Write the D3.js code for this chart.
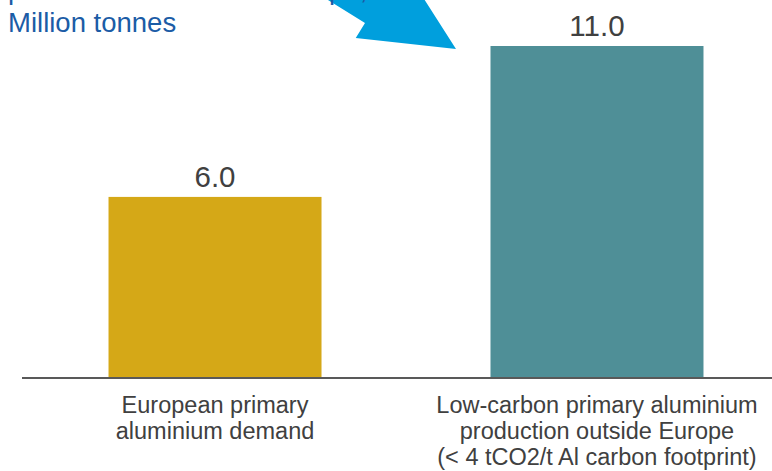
<!DOCTYPE html>
<html>
<head>
<meta charset="utf-8">
<script src="https://cdn.jsdelivr.net/npm/d3@7/dist/d3.min.js"></script>
<style>
  html, body { margin: 0; padding: 0; background: #ffffff; }
  svg { display: block; }
</style>
</head>
<body>
<svg id="chart" width="772" height="471"></svg>
<script>
// ---- Data ----
const categories = [
  ["European primary", "aluminium demand"],
  ["Low-carbon primary aluminium", "production outside Europe", "(< 4 tCO2/t Al carbon footprint)"]
];
const values = [6.0, 11.0];
const barColors = ["#D5A817", "#4F8F97"];
const titleLines = ["production outside of Europe, 2019", "Million tonnes"];

// ---- Layout ----
const W = 772, H = 471;
const svg = d3.select("#chart");
const baseY = 378, topY = 46;

const x = d3.scaleBand()
  .domain(d3.range(values.length))
  .range([22, 790])
  .paddingInner(0.4424)
  .paddingOuter(0.2265);

const y = d3.scaleLinear()
  .domain([0, d3.max(values)])
  .range([baseY, topY]);

// ---- Arrow (annotation) ----
const tip = [456, 49];
const ang = Math.atan2(0.528, 0.849);
const a = [Math.cos(ang), Math.sin(ang)];
const n = [-a[1], a[0]];
const headLen = 91, headHalf = 43.5, shaftHalf = 26, totalLen = 260;
function pt(along, perp) {
  return [tip[0] - along * a[0] + perp * n[0], tip[1] - along * a[1] + perp * n[1]];
}
const arrowPts = [
  pt(0, 0),
  pt(headLen, headHalf),
  pt(headLen, shaftHalf),
  pt(totalLen, shaftHalf),
  pt(totalLen, -shaftHalf),
  pt(headLen, -shaftHalf),
  pt(headLen, -headHalf)
];
svg.append("path")
  .attr("d", d3.line()(arrowPts) + "Z")
  .attr("fill", "#009FDD");

// ---- Title ----
svg.append("g").selectAll("text")
  .data(titleLines)
  .join("text")
  .attr("x", 8)
  .attr("y", (d, i) => -1 + i * 33)
  .attr("font-family", "Liberation Sans, Arial, sans-serif")
  .attr("font-size", 27.5)
  .attr("fill", "#1B5CA6")
  .text(d => d);

// ---- Bars ----
svg.append("g").selectAll("rect")
  .data(values)
  .join("rect")
  .attr("x", (d, i) => x(i))
  .attr("y", d => y(d))
  .attr("width", x.bandwidth())
  .attr("height", d => baseY - y(d))
  .attr("fill", (d, i) => barColors[i]);

// ---- Value labels ----
svg.append("g").selectAll("text")
  .data(values)
  .join("text")
  .attr("x", (d, i) => x(i) + x.bandwidth() / 2)
  .attr("y", d => y(d) - 10)
  .attr("text-anchor", "middle")
  .attr("font-family", "Liberation Sans, Arial, sans-serif")
  .attr("font-size", 29.5)
  .attr("fill", "#404040")
  .text(d => d.toFixed(1));

// ---- Axis ----
const axis = d3.axisBottom(x).tickSize(0).tickFormat("");
const axisG = svg.append("g")
  .attr("transform", `translate(0,${baseY})`)
  .call(axis);
axisG.select(".domain")
  .attr("d", `M22,0H772`)
  .attr("stroke", "#595959")
  .attr("stroke-width", 2);

// ---- Category labels ----
const catG = svg.append("g").selectAll("text")
  .data(categories)
  .join("text")
  .attr("text-anchor", "middle")
  .attr("font-family", "Liberation Sans, Arial, sans-serif")
  .attr("font-size", 23.5)
  .attr("fill", "#404040");
catG.selectAll("tspan")
  .data((d, i) => d.map(line => ({ line, i })))
  .join("tspan")
  .attr("x", d => x(d.i) + x.bandwidth() / 2)
  .attr("y", (d, j) => 413 + j * 26)
  .text(d => d.line);
</script>
</body>
</html>
